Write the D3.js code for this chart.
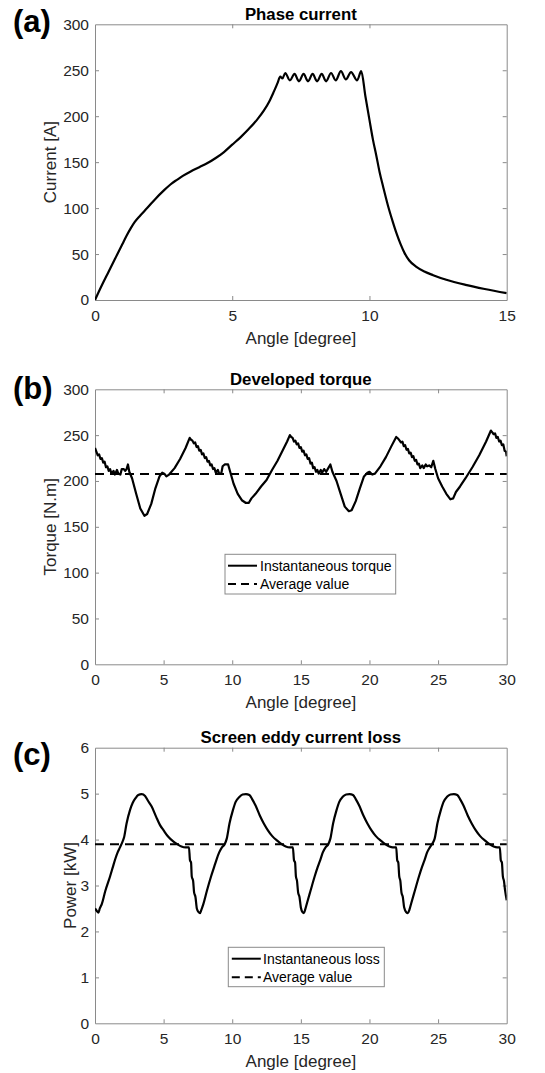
<!DOCTYPE html>
<html>
<head>
<meta charset="utf-8">
<script src="https://cdn.jsdelivr.net/npm/d3@7"></script>
<style>
  html, body { margin: 0; padding: 0; background: #fff; }
  svg { display: block; }
  text { font-family: "Liberation Sans", Arial, Helvetica, sans-serif; }
</style>
</head>
<body>
<svg id="chart" width="545" height="1073"></svg>
<script>
// ---------------- DATA ----------------
const panelLetters = ["(a)", "(b)", "(c)"];
const panelTitles = ["Phase current", "Developed torque", "Screen eddy current loss"];
const yLabels = ["Current [A]", "Torque [N.m]", "Power [kW]"];
const xLabel = "Angle [degree]";

const xTicksA = [0, 5, 10, 15];
const xTicksBC = [0, 5, 10, 15, 20, 25, 30];
const yTicksAB = [0, 50, 100, 150, 200, 250, 300];
const yTicksC = [0, 1, 2, 3, 4, 5, 6];

// Phase current [angle, A]
const currentData = [
  [0,0],[0.25,16],[0.5,31],[0.75,46],[1.0,61],[1.15,70],[1.3,78],[1.45,85],[1.65,92],[1.9,100],
  [2.2,110],[2.5,119],[2.8,127],[3.0,131],[3.2,135],[3.5,140],[3.8,144.5],[4.1,149],[4.4,154.5],
  [4.7,161],[5.0,169],[5.3,177],[5.6,186],[5.9,196],[6.15,206],[6.35,216],[6.52,227],
  [6.65,236],[6.75,243],[6.83,241],[6.93,247],[7.1,239],[7.27,246],
  [7.43,238],[7.6,246],[7.76,238],[7.93,246],[8.09,238],[8.26,246],[8.42,238],[8.6,247],
  [8.77,239],[8.96,249],[9.14,240],[9.33,248],[9.55,239],[9.7,249],[9.85,222],[10.0,196],
  [10.13,174],[10.25,157],[10.37,139],[10.5,123],[10.68,102],[10.85,85],[10.98,73],[11.13,61],
  [11.28,51],[11.45,43],[11.71,36],[12.0,31],[12.32,27],[12.8,22],[13.5,16.5],[14.2,12],[15,7.5]
];

// Developed torque [angle, N.m]
const torqueData = [
  [0,236],[0.1,232],[0.2,228],[0.3,229],[0.4,224],[0.5,225],[0.6,220],[0.7,221],[0.8,215],[0.9,216],
  [1.0,211],[1.1,213],[1.2,208],[1.35,211],[1.45,207],[1.6,212],[1.7,208],[1.85,207],[1.95,213],
  [2.1,213],[2.2,211],[2.3,213],[2.4,218],[2.5,210],[2.7,203],[3.0,186],[3.3,170],[3.6,162],
  [3.8,164],[4.1,175],[4.4,192],[4.7,205],[4.9,209],[5.05,208],[5.2,205],[5.4,207],[5.8,214],
  [6.2,224],[6.6,236],[6.9,247],[7.0,245],[7.1,244],[7.2,241],[7.3,242],[7.4,237],[7.5,238],
  [7.6,233],[7.7,234],[7.8,229],[7.9,230],[8.0,225],[8.1,226],[8.2,221],[8.3,222],[8.4,217],
  [8.5,218],[8.6,213],[8.7,214],[8.8,209],[8.95,212],[9.05,208],[9.2,208],[9.3,216],[9.45,218],
  [9.7,218],[9.85,210],[10.1,197],[10.4,186],[10.7,179],[11.0,176],[11.2,176],[11.4,181],
  [11.7,186],[12.1,194],[12.5,201],[12.9,212],[13.3,222],[13.7,234],[14.0,243],[14.2,250],
  [14.3,248],[14.4,247],[14.5,243],[14.6,244],[14.7,240],[14.8,241],[14.9,236],[15.0,237],
  [15.1,232],[15.2,233],[15.3,228],[15.4,229],[15.5,224],[15.6,225],[15.7,219],[15.8,220],
  [15.9,214],[16.0,215],[16.1,210],[16.2,212],[16.3,208],[16.45,212],[16.55,209],[16.7,213],
  [16.85,210],[17.0,214],[17.15,218],[17.3,210],[17.6,200],[17.9,186],[18.2,172],[18.5,167],
  [18.7,168],[19.0,178],[19.3,192],[19.6,205],[19.85,209],[20.0,210],[20.2,207],[20.4,208],
  [20.8,216],[21.2,226],[21.6,238],[21.95,248],[22.1,246],[22.2,244],[22.3,242],[22.4,243],
  [22.5,238],[22.6,239],[22.7,234],[22.8,235],[22.9,230],[23.0,231],[23.1,226],[23.2,227],
  [23.3,222],[23.4,223],[23.5,218],[23.6,219],[23.7,214],[23.85,217],[23.95,214],[24.1,218],
  [24.2,216],[24.35,217],[24.5,215],[24.65,222],[24.8,213],[25.0,203],[25.3,194],[25.6,186],
  [25.9,180],[26.1,181],[26.3,188],[26.6,194],[27.0,203],[27.5,215],[28.0,228],[28.5,243],
  [28.85,255],[28.95,253],[29.05,251],[29.15,252],[29.25,247],[29.35,248],[29.45,243],
  [29.55,244],[29.65,239],[29.75,240],[29.85,233],[29.95,232],[30,227]
];
const torqueAverage = 207.5;

// Screen eddy current loss [angle, kW]
const lossData = [
  [0,2.5],[0.12,2.45],[0.25,2.41],[0.35,2.5],[0.5,2.6],[0.75,2.88],[1.09,3.19],[1.3,3.4],[1.46,3.56],
  [1.65,3.72],[1.82,3.83],[2.0,3.95],[2.12,4.05],[2.3,4.35],[2.55,4.64],[2.75,4.8],[2.95,4.9],
  [3.15,4.97],[3.4,4.99],[3.65,4.95],[3.85,4.85],[4.13,4.72],[4.45,4.5],[4.73,4.32],[5.0,4.2],
  [5.34,4.06],[5.7,3.96],[6.0,3.9],[6.3,3.85],[6.6,3.83],[6.85,3.83],[6.92,3.55],[7.0,3.5],
  [7.05,3.2],[7.15,3.1],[7.22,2.85],[7.32,2.75],[7.42,2.5],[7.55,2.42],[7.65,2.4],[7.75,2.47],
  [7.9,2.6],[8.15,2.88],[8.45,3.19],[8.7,3.42],[8.85,3.56],[9.05,3.72],[9.25,3.83],[9.45,3.9],
  [9.6,4.02],[9.8,4.35],[10.05,4.64],[10.25,4.82],[10.5,4.92],[10.75,4.98],[11.0,4.99],
  [11.25,4.97],[11.45,4.88],[11.7,4.74],[12.0,4.53],[12.3,4.35],[12.6,4.2],[12.9,4.08],
  [13.3,3.97],[13.6,3.9],[13.9,3.85],[14.2,3.83],[14.42,3.83],[14.5,3.55],[14.58,3.5],
  [14.64,3.2],[14.72,3.1],[14.8,2.85],[14.9,2.75],[15.0,2.52],[15.12,2.42],[15.22,2.4],
  [15.32,2.48],[15.45,2.62],[15.7,2.88],[16.0,3.19],[16.25,3.42],[16.42,3.56],[16.6,3.72],
  [16.8,3.83],[17.0,3.9],[17.15,4.02],[17.35,4.35],[17.6,4.64],[17.8,4.82],[18.05,4.93],
  [18.3,4.98],[18.55,4.99],[18.8,4.97],[19.0,4.88],[19.25,4.74],[19.55,4.53],[19.85,4.35],
  [20.15,4.2],[20.45,4.08],[20.85,3.97],[21.15,3.9],[21.45,3.85],[21.7,3.83],[21.95,3.83],
  [22.02,3.55],[22.1,3.5],[22.17,3.2],[22.25,3.1],[22.33,2.85],[22.43,2.75],[22.53,2.52],
  [22.68,2.42],[22.8,2.4],[22.92,2.48],[23.05,2.62],[23.3,2.88],[23.6,3.19],[23.85,3.42],
  [24.02,3.56],[24.2,3.72],[24.4,3.83],[24.6,3.92],[24.75,4.02],[24.95,4.35],[25.2,4.64],
  [25.4,4.82],[25.65,4.93],[25.9,4.98],[26.15,4.99],[26.4,4.97],[26.6,4.88],[26.85,4.74],
  [27.15,4.53],[27.45,4.35],[27.75,4.2],[28.05,4.08],[28.45,3.97],[28.75,3.9],[29.05,3.85],
  [29.3,3.83],[29.5,3.83],[29.57,3.55],[29.65,3.5],[29.72,3.2],[29.8,3.1],[29.88,2.9],[30,2.68]
];
const lossAverage = 3.9;

const legendB = ["Instantaneous torque", "Average value"];
const legendC = ["Instantaneous loss", "Average value"];

// ---------------- DRAWING ----------------
const svg = d3.select("#chart");
const axisColor = "#8a8a8a";
const textColor = "#262626";
const dash = "9,6";

function drawPanel(cfg) {
  const g = svg.append("g");
  const x = d3.scaleLinear().domain(cfg.xDomain).range([cfg.left, cfg.right]);
  const y = d3.scaleLinear().domain(cfg.yDomain).range([cfg.bottom, cfg.top]);
  const W = cfg.right - cfg.left, H = cfg.bottom - cfg.top;
  const fmt = d3.format("~g");

  const clipId = "clip" + cfg.id;
  svg.append("defs").append("clipPath").attr("id", clipId)
    .append("rect").attr("x", cfg.left).attr("y", cfg.top - 2).attr("width", W).attr("height", H + 4);

  const tickLen = 4;
  const bottomAxis = d3.axisBottom(x).tickValues(cfg.xTicks).tickFormat(fmt).tickSizeInner(-tickLen).tickSizeOuter(0).tickPadding(10);
  const topAxis = d3.axisTop(x).tickValues(cfg.xTicks).tickSizeInner(-tickLen).tickSizeOuter(0).tickFormat("");
  const leftAxis = d3.axisLeft(y).tickValues(cfg.yTicks).tickFormat(fmt).tickSizeInner(-tickLen).tickSizeOuter(0).tickPadding(6);
  const rightAxis = d3.axisRight(y).tickValues(cfg.yTicks).tickSizeInner(-tickLen).tickSizeOuter(0).tickFormat("");

  const gb = g.append("g").attr("transform", `translate(0,${cfg.bottom})`).call(bottomAxis);
  const gt = g.append("g").attr("transform", `translate(0,${cfg.top})`).call(topAxis);
  const gl = g.append("g").attr("transform", `translate(${cfg.left},0)`).call(leftAxis);
  const gr = g.append("g").attr("transform", `translate(${cfg.right},0)`).call(rightAxis);
  [gb, gt, gl, gr].forEach(a => {
    a.selectAll("path.domain").attr("stroke", axisColor).attr("stroke-width", 1);
    a.selectAll(".tick line").attr("stroke", axisColor).attr("stroke-width", 1);
    a.selectAll(".tick text").attr("fill", textColor).style("font-size", "15.5px")
      .style("font-family", '"Liberation Sans", Arial, sans-serif');
  });
  gb.selectAll(".tick text").attr("dy", "0.71em");
  [gb, gt].forEach(a => a.selectAll(".tick line").filter(d => d === cfg.xDomain[0] || d === cfg.xDomain[1]).remove());
  [gl, gr].forEach(a => a.selectAll(".tick line").filter(d => d === cfg.yDomain[0] || d === cfg.yDomain[1]).remove());

  const line = d3.line().x(d => x(d[0])).y(d => y(d[1]));
  const dataLine = d3.line().x(d => x(d[0])).y(d => y(d[1])).curve(cfg.curve || d3.curveLinear);
  g.append("path").datum(cfg.data)
    .attr("clip-path", `url(#${clipId})`)
    .attr("fill", "none").attr("stroke", "#000").attr("stroke-width", 2.2)
    .attr("stroke-linejoin", "round").attr("d", dataLine);

  if (cfg.avg !== undefined) {
    g.append("path").datum([[cfg.xDomain[0], cfg.avg], [cfg.xDomain[1], cfg.avg]])
      .attr("fill", "none").attr("stroke", "#000").attr("stroke-width", 2)
      .attr("stroke-dasharray", dash).attr("d", line);
  }

  g.append("text").attr("x", (cfg.left + cfg.right) / 2).attr("y", cfg.top - 4.5)
    .attr("text-anchor", "middle").attr("font-weight", "bold").style("font-size", "16.8px")
    .attr("fill", "#000").text(cfg.title);

  g.append("text").attr("x", 13).attr("y", cfg.letterY)
    .attr("font-weight", "bold").style("font-size", "31px").attr("fill", "#000").text(cfg.letter);

  g.append("text").attr("x", (cfg.left + cfg.right) / 2).attr("y", cfg.bottom + 38.5)
    .attr("text-anchor", "middle").attr("dominant-baseline", "central")
    .style("font-size", "17px").attr("fill", textColor).text(xLabel);

  g.append("text")
    .attr("transform", `translate(${cfg.yLabelX},${(cfg.top + cfg.bottom) / 2}) rotate(-90)`)
    .attr("text-anchor", "middle").attr("dominant-baseline", "central")
    .style("font-size", "17px").attr("fill", textColor).text(cfg.yLabel);

  if (cfg.legend) {
    const L = cfg.legendBox;
    const lg = g.append("g");
    lg.append("rect").attr("x", L.x).attr("y", L.y).attr("width", L.w).attr("height", L.h)
      .attr("fill", "#fff").attr("stroke", axisColor).attr("stroke-width", 1);
    cfg.legend.forEach((label, i) => {
      const ry = L.y + L.rows[i];
      lg.append("line").attr("x1", L.x + L.lineStart).attr("x2", L.x + L.lineStart + 29)
        .attr("y1", ry).attr("y2", ry).attr("stroke", "#000").attr("stroke-width", 2)
        .attr("stroke-dasharray", i === 1 ? "8,5" : null);
      lg.append("text").attr("x", L.x + L.textStart).attr("y", ry)
        .attr("dominant-baseline", "central").style("font-size", "14px")
        .attr("fill", "#000").text(label);
    });
  }
}

const LEFT = 95, RIGHT = 506.7;

drawPanel({
  id: "a", left: LEFT, right: RIGHT, top: 24.3, bottom: 300,
  xDomain: [0, 15], yDomain: [0, 300], xTicks: xTicksA, yTicks: yTicksAB,
  data: currentData, curve: d3.curveMonotoneX,
  title: panelTitles[0], letter: panelLetters[0], letterY: 32,
  yLabel: yLabels[0], yLabelX: 50
});

drawPanel({
  id: "b", left: LEFT, right: RIGHT, top: 389.3, bottom: 664.3,
  xDomain: [0, 30], yDomain: [0, 300], xTicks: xTicksBC, yTicks: yTicksAB,
  data: torqueData, avg: torqueAverage, title: panelTitles[1], letter: panelLetters[1], letterY: 399,
  yLabel: yLabels[1], yLabelX: 50,
  legend: legendB,
  legendBox: { x: 225, y: 554.3, w: 170.7, h: 39.7, rows: [11.4, 29.7], lineStart: 3, textStart: 35 }
});

drawPanel({
  id: "c", left: LEFT, right: RIGHT, top: 747.7, bottom: 1023.3,
  xDomain: [0, 30], yDomain: [0, 6], xTicks: xTicksBC, yTicks: yTicksC,
  data: lossData, curve: d3.curveMonotoneX,
  avg: lossAverage, title: panelTitles[2], letter: panelLetters[2], letterY: 765,
  yLabel: yLabels[2], yLabelX: 70,
  legend: legendC,
  legendBox: { x: 228.3, y: 947.3, w: 156, h: 39.4, rows: [11.4, 30], lineStart: 3.5, textStart: 34.7 }
});
</script>
</body>
</html>
